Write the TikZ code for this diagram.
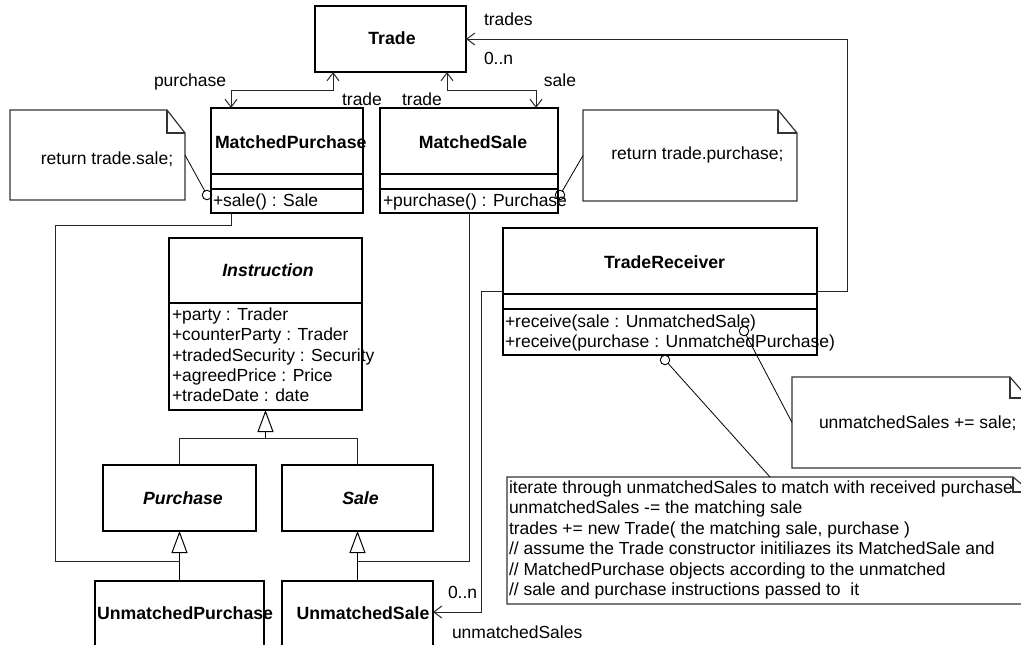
\documentclass[tikz,border=0pt]{standalone}
\usepackage{fontspec}
\setmainfont{Liberation Sans}
\usetikzlibrary{arrows.meta}
\begin{document}
\begin{tikzpicture}[x=1pt,y=-1pt,
  every node/.style={inner sep=0pt, outer sep=0pt, font=\fontsize{17.5}{20.6}\selectfont},
  cls/.style={draw=black, line width=1.3pt, anchor=north west},
  sepline/.style={draw=black, line width=1.3pt},
  notebox/.style={anchor=north west},
  noteline/.style={draw=black!80, line width=1.2pt, line join=miter},
  lbl/.style={anchor=base west},
  ctr/.style={anchor=base},
  cname/.style={anchor=base, font=\fontsize{17.7}{20.6}\selectfont\bfseries},
  aname/.style={anchor=base, font=\fontsize{17.7}{20.6}\selectfont\bfseries\itshape},
  assoc/.style={draw=black!85, line width=1pt},
  nav/.tip={Straight Barb[length=8pt,width=12pt,line width=1pt]},
  gen/.style={draw=black, line width=1pt, -{Triangle[fill=white,length=22pt,width=16pt,line width=1pt]}},
  anchorpt/.style={circle, draw=black, line width=0.9pt, minimum size=9.5pt},
  notelink/.style={draw=black, line width=0.8pt}
]
\newcommand\umlnote[3]{%
  \draw[noteline] (#1.north west) -- ([xshift=-#2]#1.north east)
    -- ([yshift=-#3]#1.north east) -- (#1.south east) -- (#1.south west) -- cycle;
  \draw[noteline] ([xshift=-#2]#1.north east) |- ([yshift=-#3]#1.north east);
}
\useasboundingbox (0,0) rectangle (1021,645);
\fill[white] (0,0) rectangle (1021,645);
\clip (0,0) rectangle (1021,645);

% ---------- classes ----------
\node[cls, minimum width=151pt, minimum height=66pt] (trade) at (315,6) {};
\node[cname] (tradeT) at (392,44) {Trade};

\node[cls, minimum width=152pt, minimum height=105pt] (mp) at (211,108) {};
\draw[sepline] ([yshift=-66pt]mp.north west) -- ([yshift=-66pt]mp.north east);
\draw[sepline] ([yshift=-81pt]mp.north west) -- ([yshift=-81pt]mp.north east);
\node[cname, anchor=base west] (mpT) at (215,148) {MatchedPurchase};
\node[lbl] (mpM) at (213,206) {+sale() : Sale};

\node[cls, minimum width=178pt, minimum height=105pt] (ms) at (380,108) {};
\draw[sepline] ([yshift=-66pt]ms.north west) -- ([yshift=-66pt]ms.north east);
\draw[sepline] ([yshift=-81pt]ms.north west) -- ([yshift=-81pt]ms.north east);
\node[cname] (msT) at (473,148) {MatchedSale};
\node[lbl] (msM) at (383,206) {+purchase() : Purchase};

\node[cls, minimum width=193pt, minimum height=172pt] (instr) at (169,238) {};
\draw[sepline] ([yshift=-65pt]instr.north west) -- ([yshift=-65pt]instr.north east);
\node[aname] (instrT) at (268,276.5) {Instruction};
\foreach \t [count=\i from 0] in {{+party : Trader},{+counterParty : Trader},
    {+tradedSecurity : Security},{+agreedPrice : Price},{+tradeDate : date}}
  \node[lbl] (attr\i) at (172,320.5+20.25*\i) {\t};

\node[cls, minimum width=153pt, minimum height=66pt] (purchase) at (103,465) {};
\node[aname] (purchaseT) at (183,504) {Purchase};
\node[cls, minimum width=151pt, minimum height=66pt] (sale) at (282,465) {};
\node[aname] (saleT) at (360.5,504) {Sale};

\node[cls, minimum width=169pt, minimum height=80pt] (up) at (95,581) {};
\node[cname, anchor=base west] (upT) at (97,619) {UnmatchedPurchase};
\node[cls, minimum width=151pt, minimum height=80pt] (us) at (282,581) {};
\node[cname] (usT) at (363,619) {UnmatchedSale};

\node[cls, minimum width=314pt, minimum height=127pt] (tr) at (503,228) {};
\draw[sepline] ([yshift=-66pt]tr.north west) -- ([yshift=-66pt]tr.north east);
\draw[sepline] ([yshift=-81pt]tr.north west) -- ([yshift=-81pt]tr.north east);
\node[cname] (trT) at (664.6,268) {TradeReceiver};
\node[lbl] (trM1) at (505,327) {+receive(sale : UnmatchedSale)};
\node[lbl] (trM2) at (505,347) {+receive(purchase : UnmatchedPurchase)};

% ---------- notes ----------
\node[notebox, minimum width=175pt, minimum height=90pt] (n1) at (10,110) {};
\umlnote{n1}{18pt}{23pt}
\node[ctr] (n1T) at (107,164) {return trade.sale;};

\node[notebox, minimum width=214pt, minimum height=91pt] (n2) at (583,110) {};
\umlnote{n2}{19pt}{23pt}
\node[ctr] (n2T) at (697.5,159) {return trade.purchase;};

\node[notebox, minimum width=236pt, minimum height=91pt] (n3) at (792,377) {};
\umlnote{n3}{18pt}{21pt}
\node[lbl] (n3T) at (819,428) {unmatchedSales += sale;};

\node[notebox, minimum width=524pt, minimum height=127pt] (n4) at (507,477) {};
\umlnote{n4}{18pt}{15pt}
\foreach \t [count=\i from 0] in {
    {iterate through unmatchedSales to match with received purchase},
    {unmatchedSales -= the matching sale},
    {trades += new Trade( the matching sale, purchase )},
    {// assume the Trade constructor initiliazes its MatchedSale and},
    {// MatchedPurchase objects according to the unmatched},
    {// sale and purchase instructions passed to\ \ it}}
  \node[lbl] (n4L\i) at (509,493.5+20.4*\i) {\t};

% ---------- note anchors ----------
\node[anchorpt] (c1) at (207,195) {};
\node[anchorpt] (c2) at (560,195) {};
\node[anchorpt] (c3) at (744,331) {};
\node[anchorpt] (c4) at (665,360) {};
\draw[notelink] (c1) -- (n1.east);
\draw[notelink] (c2) -- (n2.west);
\draw[notelink] (c3) -- (n3.west);
\draw[notelink] (c4) -- ([xshift=263pt]n4.north west);

% ---------- associations ----------
\draw[assoc, {nav}-{nav}] ([xshift=18pt]trade.south west) -- ++(0,18) -| ([xshift=20pt]mp.north west);
\draw[assoc, {nav}-{nav}] ([xshift=132pt]trade.south west) -- ++(0,18) -| ([xshift=156pt]ms.north west);
\draw[assoc, -{nav}] ([yshift=-63pt]tr.north east) -- ++(30,0) |- (trade.east);
\draw[assoc, -{nav}] ([yshift=-63pt]tr.north west) -- ++(-22,0) |- ([yshift=-31pt]us.north east);

\node[ctr] (lPurchase) at (190,86) {purchase};
\node[ctr] (lTrade1) at (362,105) {trade};
\node[ctr] (lTrade2) at (422,105) {trade};
\node[ctr] (lSale) at (560,86) {sale};
\node[lbl] (lTrades) at (484,25) {trades};
\node[lbl] (lMult1) at (484,64) {0..n};
\node[lbl] (lMult2) at (448,598) {0..n};
\node[lbl] (lUnmatched) at (452,638) {unmatchedSales};

% ---------- generalizations ----------
\coordinate (gi) at ([yshift=-28pt]instr.south);
\coordinate (pj) at ([yshift=-30pt]purchase.south);
\coordinate (sj) at ([yshift=-30pt]sale.south);
\draw[assoc] (purchase.north) -- ++(0,-27) -| (sale.north);
\draw[gen] (gi) -- (instr.south);
\draw[gen] (up.north) -- (purchase.south);
\draw[gen] (us.north) -- (sale.south);
\draw[assoc] ([xshift=20pt]mp.south west) -- ++(0,12) -| (55,561) -- (pj);
\draw[assoc] (ms.south) |- (sj);
\end{tikzpicture}
\end{document}
